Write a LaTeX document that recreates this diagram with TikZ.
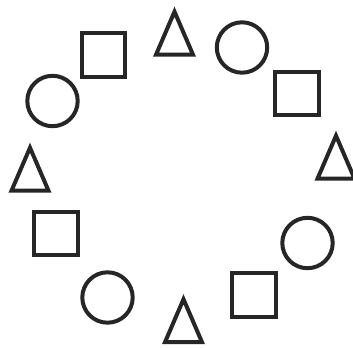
\documentclass[tikz,border=0pt]{standalone}
\usepackage{tikz}
\definecolor{shapegray}{RGB}{38,38,38}

\begin{document}
\begin{tikzpicture}[
  x=0.025cm, y=-0.025cm,
  outline/.style={draw=shapegray, line width=0.1cm, line join=miter},
  circ/.style={outline, circle, minimum size=1.26cm, inner sep=0pt},
  sq/.style={outline, rectangle, minimum size=1.09cm, inner sep=0pt}]
\useasboundingbox (0,0) rectangle (353,347);
% circles
\foreach \name/\x/\y in {circ1/242/47.5, circ2/307.5/243, circ3/107.5/297.5, circ4/52.5/101}
  \node[circ] (\name) at (\x,\y) {};
% squares
\foreach \name/\x/\y in {sq1/297/93.5, sq2/254/295, sq3/56/233.5, sq4/103.5/55}
  \node[sq] (\name) at (\x,\y) {};
% triangles
\foreach \name/\x/\y in {tri1/174.5/33.2, tri2/336/157.2, tri3/183.5/320.7, tri4/30/169.2} {
  \coordinate (\name) at (\x,\y);
  \draw[outline, shift={(\name)}] (-18.5,21.5) -- (0,-21.5) -- (18.5,21.5) -- cycle;
}
\end{tikzpicture}
\end{document}
